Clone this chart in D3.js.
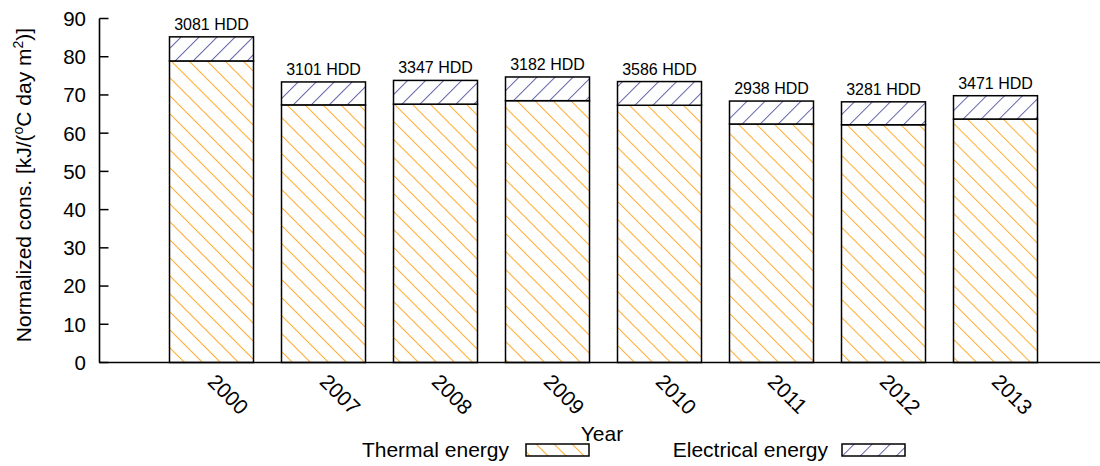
<!DOCTYPE html>
<html>
<head>
<meta charset="utf-8">
<script src="https://cdn.jsdelivr.net/npm/d3@7"></script>
<style>
  html, body { margin: 0; padding: 0; background: #fff; }
  svg { display: block; font-family: "Liberation Sans", Arial, sans-serif; }
</style>
</head>
<body>
<svg id="chart" width="1100" height="466"></svg>
<script>
const years = ["2000", "2007", "2008", "2009", "2010", "2011", "2012", "2013"];
const thermal = [78.9, 67.4, 67.6, 68.5, 67.3, 62.4, 62.2, 63.7];
const electrical = [6.3, 6.0, 6.2, 6.2, 6.2, 6.0, 6.0, 6.1];
const hdd = [3081, 3101, 3347, 3182, 3586, 2938, 3281, 3471];
const yTicks = [0, 10, 20, 30, 40, 50, 60, 70, 80, 90];
const seriesNames = ["Thermal energy", "Electrical energy"];

const svg = d3.select("#chart");
const thermalColor = "#ff9900";
const elecColor = "#3c3c96";

const x = d3.scaleBand().domain(years).range([99.5, 1107.5]).paddingInner(0.25).paddingOuter(0.625);
const y = d3.scaleLinear().domain([0, 90]).range([362.5, 18.5]);

// hatch patterns
const defs = svg.append("defs");
function hatch(id, color, angle) {
  const p = defs.append("pattern").attr("id", id)
    .attr("patternUnits", "userSpaceOnUse")
    .attr("width", 12.73).attr("height", 10)
    .attr("patternTransform", `rotate(${angle})`);
  p.append("rect").attr("width", 12.73).attr("height", 10).attr("fill", "#fff");
  p.append("line").attr("x1", 1).attr("x2", 1).attr("y1", -1).attr("y2", 11)
    .attr("stroke", color).attr("stroke-width", 0.8)
    .attr("shape-rendering", "crispEdges");
}
hatch("hThermal", thermalColor, -45);
hatch("hElec", elecColor, 45);

// bars
const g = svg.append("g");
years.forEach((yr, i) => {
  const bx = x(yr), bw = x.bandwidth();
  const t = thermal[i], e = electrical[i];
  g.append("rect").attr("x", bx).attr("y", y(t)).attr("width", bw).attr("height", y(0) - y(t))
    .attr("fill", "url(#hThermal)").attr("stroke", "#000").attr("stroke-width", 1.5);
  g.append("rect").attr("x", bx).attr("y", y(t + e)).attr("width", bw).attr("height", y(t) - y(t + e))
    .attr("fill", "url(#hElec)").attr("stroke", "#000").attr("stroke-width", 1.5);
  g.append("text").attr("x", bx + bw / 2).attr("y", y(t + e) - 7)
    .attr("text-anchor", "middle").attr("font-size", 16).attr("fill", "#000")
    .text(hdd[i] + " HDD");
});

// y axis
const yAxis = svg.append("g");
yAxis.append("line").attr("x1", 99.5).attr("x2", 99.5).attr("y1", y(90)).attr("y2", y(0))
  .attr("stroke", "#000").attr("stroke-width", 1.6);
yTicks.forEach(v => {
  yAxis.append("line").attr("x1", 99.5).attr("x2", 108.5).attr("y1", y(v)).attr("y2", y(v))
    .attr("stroke", "#000").attr("stroke-width", 1.5);
  yAxis.append("text").attr("x", 86).attr("y", y(v)).attr("dy", "0.36em")
    .attr("text-anchor", "end").attr("font-size", 20.5).text(v);
});

// x axis
const xAxis = svg.append("g");
xAxis.append("line").attr("x1", 99).attr("x2", 1100).attr("y1", y(0)).attr("y2", y(0))
  .attr("stroke", "#000").attr("stroke-width", 1.6);
years.forEach(yr => {
  const cx = x(yr) + x.bandwidth() / 2 - 5;
  xAxis.append("text").attr("transform", `translate(${cx},383) rotate(45)`)
    .attr("text-anchor", "start").attr("font-size", 21).text(yr);
});

// axis titles
const yt = svg.append("text").attr("transform", "translate(31,185) rotate(-90)")
  .attr("text-anchor", "middle").attr("font-size", 21);
yt.append("tspan").text("Normalized cons. [kJ/(");
yt.append("tspan").attr("font-size", 14).attr("dy", -8).text("o");
yt.append("tspan").attr("dy", 8).text("C day m");
yt.append("tspan").attr("font-size", 14).attr("dy", -8).text("2");
yt.append("tspan").attr("dy", 8).text(")]");

svg.append("text").attr("x", 602).attr("y", 441).attr("text-anchor", "middle")
  .attr("font-size", 21).text("Year");

// legend
const legend = [
  { name: seriesNames[0], fill: "url(#hThermal)", tx: 509, sx: 526 },
  { name: seriesNames[1], fill: "url(#hElec)", tx: 828, sx: 842 }
];
legend.forEach(l => {
  svg.append("text").attr("x", l.tx).attr("y", 457).attr("text-anchor", "end")
    .attr("font-size", 21).text(l.name);
  svg.append("rect").attr("x", l.sx).attr("y", 444).attr("width", 63).attr("height", 12)
    .attr("fill", l.fill).attr("stroke", "#000").attr("stroke-width", 1.5);
});
</script>
</body>
</html>
